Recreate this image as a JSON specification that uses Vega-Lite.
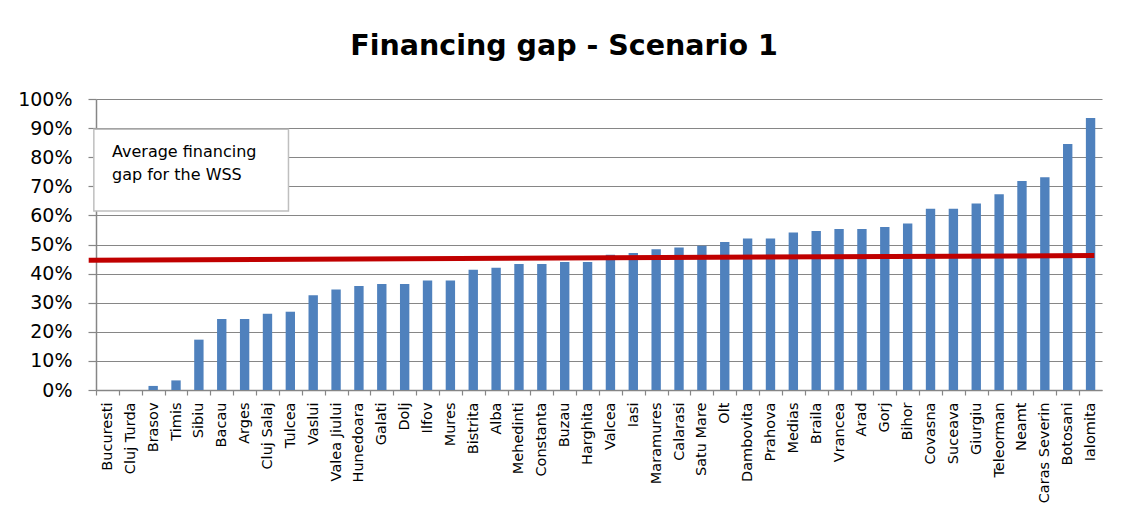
{
  "$schema": "https://vega.github.io/schema/vega-lite/v6.json",
  "autosize": {"type": "none"},
  "width": 1006,
  "height": 291,
  "padding": {"left": 96, "top": 99, "right": 28, "bottom": 123},
  "background": "white",
  "title": {
    "text": "Financing gap - Scenario 1",
    "font": "DejaVu Sans",
    "fontSize": 28.5,
    "fontWeight": "bold",
    "color": "black",
    "offset": 30,
    "dx": -35,
    "anchor": "middle"
  },
  "config": {
    "view": {"stroke": null},
    "font": "DejaVu Sans",
    "axisY": {
      "title": null,
      "format": ".0%",
      "labelOverlap": false,
      "labelFont": "DejaVu Sans",
      "labelFontSize": 19,
      "labelColor": "black",
      "labelPadding": 16,
      "tickSize": 8,
      "tickColor": "#868686",
      "tickWidth": 1.2,
      "domainColor": "#868686",
      "domainWidth": 1.5,
      "grid": true,
      "gridColor": "#868686",
      "gridWidth": 1.2
    }
  },
  "datasets": {
    "gaps": [
      {"region": "Bucuresti", "gap": 0},
      {"region": "Cluj Turda", "gap": 0},
      {"region": "Brasov", "gap": 0.014},
      {"region": "Timis", "gap": 0.033},
      {"region": "Sibiu", "gap": 0.173},
      {"region": "Bacau", "gap": 0.244},
      {"region": "Arges", "gap": 0.244},
      {"region": "Cluj Salaj", "gap": 0.262},
      {"region": "Tulcea", "gap": 0.269},
      {"region": "Vaslui", "gap": 0.326},
      {"region": "Valea Jiului", "gap": 0.345},
      {"region": "Hunedoara", "gap": 0.357},
      {"region": "Galati", "gap": 0.364},
      {"region": "Dolj", "gap": 0.364},
      {"region": "Ilfov", "gap": 0.376},
      {"region": "Mures", "gap": 0.376},
      {"region": "Bistrita", "gap": 0.413},
      {"region": "Alba", "gap": 0.42},
      {"region": "Mehedinti", "gap": 0.433},
      {"region": "Constanta", "gap": 0.433},
      {"region": "Buzau", "gap": 0.44},
      {"region": "Harghita", "gap": 0.44},
      {"region": "Valcea", "gap": 0.465},
      {"region": "Iasi", "gap": 0.471},
      {"region": "Maramures", "gap": 0.484},
      {"region": "Calarasi", "gap": 0.49},
      {"region": "Satu Mare", "gap": 0.496},
      {"region": "Olt", "gap": 0.509},
      {"region": "Dambovita", "gap": 0.521},
      {"region": "Prahova", "gap": 0.521},
      {"region": "Medias", "gap": 0.541},
      {"region": "Braila", "gap": 0.546},
      {"region": "Vrancea", "gap": 0.553},
      {"region": "Arad", "gap": 0.553},
      {"region": "Gorj", "gap": 0.56},
      {"region": "Bihor", "gap": 0.572},
      {"region": "Covasna", "gap": 0.623},
      {"region": "Suceava", "gap": 0.623},
      {"region": "Giurgiu", "gap": 0.641},
      {"region": "Teleorman", "gap": 0.673},
      {"region": "Neamt", "gap": 0.718},
      {"region": "Caras Severin", "gap": 0.731},
      {"region": "Botosani", "gap": 0.845},
      {"region": "Ialomita", "gap": 0.935}
    ],
    "avgline": [
      {"from": "Bucuresti", "to": "Ialomita", "start": 0.446, "end": 0.462}
    ],
    "note": [
      {"from": "Bucuresti", "to": "Tulcea", "top": 0.896, "bottom": 0.615, "label": "Average financing\ngap for the WSS", "texty": 0.802}
    ]
  },
  "layer": [
    {
      "data": {"name": "gaps"},
      "mark": {"type": "bar", "color": "#4F81BD"},
      "encoding": {
        "x": {
          "field": "region",
          "type": "nominal",
          "sort": null,
          "scale": {
            "domain": ["Bucuresti","Cluj Turda","Brasov","Timis","Sibiu","Bacau","Arges","Cluj Salaj","Tulcea","Vaslui","Valea Jiului","Hunedoara","Galati","Dolj","Ilfov","Mures","Bistrita","Alba","Mehedinti","Constanta","Buzau","Harghita","Valcea","Iasi","Maramures","Calarasi","Satu Mare","Olt","Dambovita","Prahova","Medias","Braila","Vrancea","Arad","Gorj","Bihor","Covasna","Suceava","Giurgiu","Teleorman","Neamt","Caras Severin","Botosani","Ialomita"],
            "paddingInner": 0.59,
            "paddingOuter": 0.295
          },
          "axis": {
            "title": null,
            "labelAngle": -90,
            "labelFont": "DejaVu Sans",
            "labelFontSize": 14.5,
            "labelColor": "black",
            "labelPadding": 7,
            "labelOverlap": false,
            "tickSize": 5,
            "tickColor": "#868686",
            "tickWidth": 1.2,
            "domainColor": "#868686",
            "domainWidth": 1.5,
            "tickOffset": -11.43,
            "labelOffset": 11.43,
            "grid": false
          }
        },
        "y": {
          "field": "gap",
          "type": "quantitative",
          "scale": {"domain": [0, 1], "nice": false},
          "axis": {"values": [0, 0.1, 0.2, 0.3, 0.4, 0.5, 0.6, 0.7, 0.8, 0.9, 1], "title": null}
        }
      }
    },
    {
      "data": {"name": "avgline"},
      "mark": {"type": "rule", "color": "#C00000", "strokeWidth": 5},
      "encoding": {
        "x": {"field": "from", "type": "nominal", "bandPosition": -1.5},
        "x2": {"field": "to", "bandPosition": 0.9},
        "y": {"field": "start", "type": "quantitative", "axis": {"values": [0, 0.1, 0.2, 0.3, 0.4, 0.5, 0.6, 0.7, 0.8, 0.9, 1], "title": null}},
        "y2": {"field": "end"}
      }
    },
    {
      "data": {"name": "note"},
      "mark": {"type": "rect", "fill": "white", "stroke": "#BFBFBF", "strokeWidth": 1.5},
      "encoding": {
        "x": {"field": "from", "type": "nominal", "bandPosition": -0.95},
        "x2": {"field": "to", "bandPosition": 0.3},
        "y": {"field": "top", "type": "quantitative", "axis": {"values": [0, 0.1, 0.2, 0.3, 0.4, 0.5, 0.6, 0.7, 0.8, 0.9, 1], "title": null}},
        "y2": {"field": "bottom"}
      }
    },
    {
      "data": {"name": "note"},
      "mark": {"type": "text", "align": "left", "baseline": "alphabetic", "dx": 16, "font": "DejaVu Sans", "fontSize": 16, "color": "black", "lineBreak": "\n", "lineHeight": 23.5},
      "encoding": {
        "x": {"field": "from", "type": "nominal", "bandPosition": -0.72},
        "y": {"field": "texty", "type": "quantitative", "axis": {"values": [0, 0.1, 0.2, 0.3, 0.4, 0.5, 0.6, 0.7, 0.8, 0.9, 1], "title": null}},
        "text": {"field": "label"}
      }
    }
  ]
}
